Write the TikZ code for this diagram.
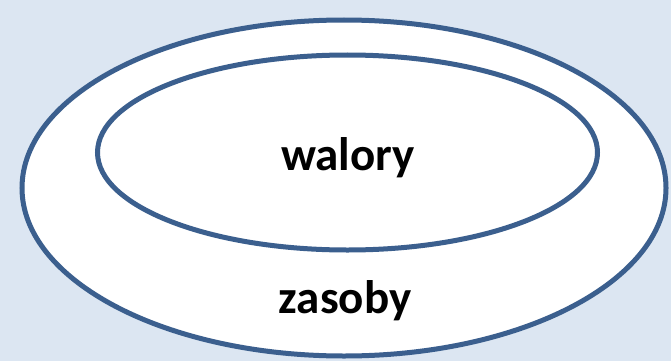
\documentclass[tikz,border=0pt]{standalone}
\usepackage{fontspec}
\setmainfont{Carlito}
\definecolor{bgblue}{HTML}{DCE6F2}
\definecolor{ringblue}{HTML}{3B5F8E}
\tikzset{
	ring/.style={draw=ringblue,line width=5pt,fill=white},
	word/.style={font=\fontsize{47}{50}\selectfont\bfseries,text=black,inner sep=0pt}
}

\begin{document}
\begin{tikzpicture}[x=1pt,y=-1pt]
			%%%%% START %%%%%
			\def\W{671}
			\def\H{361}
			\def\cxo{344}
			\def\cyo{188}
			\def\cxi{347.5}
			\def\cyi{152.5}
			
			\fill[bgblue] (0,0) rectangle (\W,\H);
			\useasboundingbox (0,0) rectangle (\W,\H);

			\draw[ring] (\cxo,\cyo) ellipse (322 and 168);
			\draw[ring] (\cxi,\cyi) ellipse (250 and 97.5);

			\node[word] (walory) at (348,158) {walory};
			\node[word] (zasoby) at (345,301) {zasoby};
			%%%%% END %%%%%
\end{tikzpicture}
\end{document}
